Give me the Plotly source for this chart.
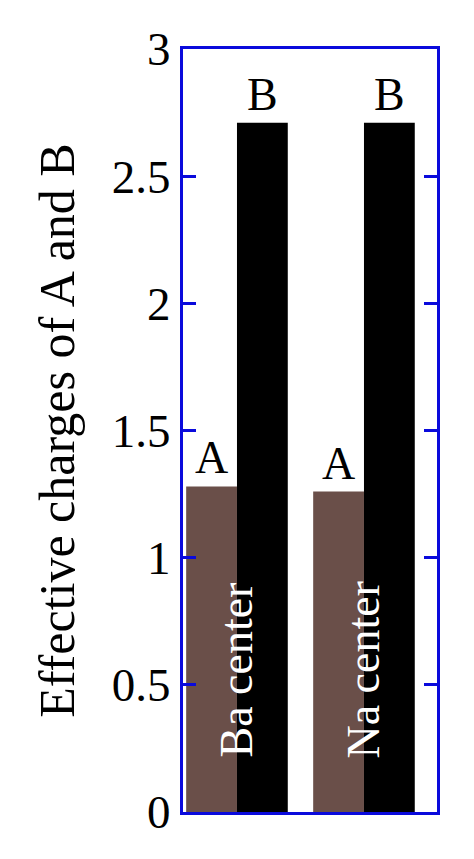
import plotly.graph_objects as go

# data
centers = ["Ba center", "Na center"]
charge_a = [1.28, 1.26]
charge_b = [2.71, 2.71]
series_names = ["A", "B"]
y_ticks = [0, 0.5, 1, 1.5, 2, 2.5, 3]
y_tick_labels = ["0", "0.5", "1", "1.5", "2", "2.5", "3"]

serif = "Liberation Serif, Times New Roman, serif"
axis_blue = "#0A0ADC"

fig = go.Figure()

fig.add_trace(go.Bar(
    x=centers, y=charge_a, name=series_names[0],
    marker=dict(color="#6A4F49", line=dict(width=0)),
    text=[series_names[0]] * len(centers), textposition="outside",
    textfont=dict(family=serif, size=46, color="black"),
    cliponaxis=False, constraintext="none",
))
fig.add_trace(go.Bar(
    x=centers, y=charge_b, name=series_names[1],
    marker=dict(color="#000000", line=dict(width=0)),
    text=[series_names[1]] * len(centers), textposition="outside",
    textfont=dict(family=serif, size=46, color="black"),
    cliponaxis=False, constraintext="none",
))

# white vertical labels inside each group
for c in centers:
    fig.add_annotation(
        x=c, y=0.56, xref="x", yref="y",
        text=c, textangle=-90, showarrow=False,
        font=dict(family=serif, size=46, color="white"),
    )

# page body has an 8px margin, so the figure is a bit smaller than the window
fig.update_layout(
    width=466, height=851,
    margin=dict(l=175, r=37, t=41, b=47),
    barmode="group", bargap=0.2, bargroupgap=0,
    showlegend=False,
    plot_bgcolor="white", paper_bgcolor="white",
    font=dict(family=serif, color="black"),
    xaxis=dict(
        range=[-0.425, 1.575], showticklabels=False, ticks="",
        showline=True, mirror=True, linecolor=axis_blue, linewidth=3,
        showgrid=False, zeroline=False,
    ),
    yaxis=dict(
        range=[0, 3], tickvals=y_ticks, ticktext=y_tick_labels,
        ticks="inside", ticklen=13, tickwidth=3, tickcolor=axis_blue,
        tickfont=dict(family=serif, size=47, color="black"),
        showline=True, mirror="ticks", linecolor=axis_blue, linewidth=3,
        showgrid=False, zeroline=False,
        title=dict(text="Effective charges of A and B",
                   font=dict(family=serif, size=50, color="black"),
                   standoff=22),
    ),
)

fig.write_html("out.html")
